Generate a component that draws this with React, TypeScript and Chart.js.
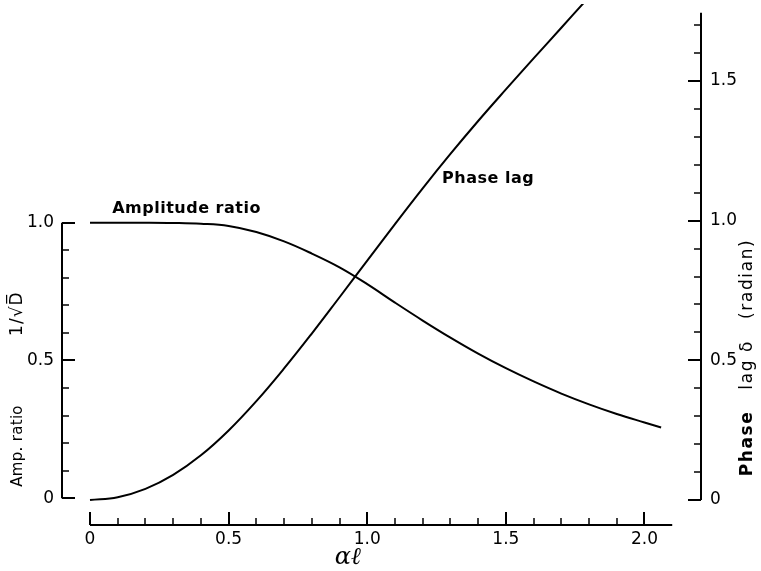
import React, { useEffect, useRef } from "react";
import { Chart, registerables } from "chart.js";

Chart.register(...registerables);

// ---- data ----
const ampX = [0, 0.1, 0.2, 0.3, 0.4, 0.5, 0.6, 0.7, 0.8, 0.9, 1.0, 1.1, 1.2, 1.3, 1.4, 1.5, 1.6, 1.7, 1.8, 1.9, 2.0, 2.06];
const ampY = [1.0, 1.0, 1.0, 0.999, 0.996, 0.988, 0.966, 0.932, 0.888, 0.838, 0.777, 0.71, 0.645, 0.583, 0.525, 0.472, 0.424, 0.38, 0.341, 0.306, 0.275, 0.257];

const phaseX = [0, 0.1, 0.2, 0.3, 0.4, 0.5, 0.6, 0.7, 0.8, 0.9, 1.0, 1.1, 1.2, 1.3, 1.4, 1.5, 1.6, 1.7, 1.78];
const phaseY = [0, 0.01, 0.04, 0.09, 0.16, 0.249, 0.354, 0.471, 0.596, 0.726, 0.857, 0.988, 1.116, 1.239, 1.357, 1.47, 1.581, 1.691, 1.779];

const xTickLabels = ["0", "0.5", "1.0", "1.5", "2.0"];
const xTickValues = [0, 0.5, 1.0, 1.5, 2.0];
const leftTickLabels = ["0", "0.5", "1.0"];
const leftTickValues = [0, 0.5, 1.0];
const rightTickLabels = ["0", "0.5", "1.0", "1.5"];
const rightTickValues = [0, 0.5, 1.0, 1.5];

const xAxisEnd = 2.1;
const leftAxisTop = 1.0;
const rightAxisTop = 1.745;
const rightMinorTop = 1.7;

const TICK_FONT = '17px "DejaVu Sans"';
const NOTE_FONT = 'bold 16px "DejaVu Sans"';

function drawRotatedParts(ctx: any, cx: number, cy: number, parts: [string, string][], spacing = 0) {
  // draw text parts rotated -90deg, centred on (cx, cy)
  ctx.save();
  ctx.translate(cx, cy);
  ctx.rotate(-Math.PI / 2);
  ctx.textAlign = "left";
  ctx.textBaseline = "middle";
  ctx.letterSpacing = spacing + "px";
  let total = 0;
  const widths = parts.map(([t, f]) => {
    ctx.font = f;
    const w = ctx.measureText(t).width;
    total += w;
    return w;
  });
  let x = -total / 2;
  parts.forEach(([t, f], i) => {
    ctx.font = f;
    ctx.fillText(t, x, 0);
    x += widths[i];
  });
  ctx.letterSpacing = "0px";
  ctx.restore();
}

const axesPlugin = {
  id: "customAxes",
  beforeDatasetsDraw(chart: any) {
    const ctx = chart.ctx;
    const xs = chart.scales.x;
    const yl = chart.scales.y;
    const yr = chart.scales.y2;
    ctx.save();
    ctx.strokeStyle = "#000";
    ctx.fillStyle = "#000";
    ctx.lineWidth = 2;
    ctx.lineCap = "butt";

    // x axis (bottom)
    const xAxisY = chart.chartArea.bottom - 1;
    ctx.beginPath();
    ctx.moveTo(xs.getPixelForValue(0), xAxisY);
    ctx.lineTo(xs.getPixelForValue(xAxisEnd), xAxisY);
    ctx.stroke();
    for (let i = 0; i <= 20; i++) {
      const v = i / 10;
      const px = Math.round(xs.getPixelForValue(v));
      const major = i % 5 === 0;
      ctx.beginPath();
      ctx.lineWidth = major ? 2 : 1.5;
      ctx.moveTo(px, xAxisY);
      ctx.lineTo(px, xAxisY - (major ? 13 : 7));
      ctx.stroke();
    }
    ctx.font = TICK_FONT;
    ctx.textAlign = "center";
    ctx.textBaseline = "middle";
    xTickValues.forEach((v, i) => {
      ctx.fillText(xTickLabels[i], xs.getPixelForValue(v), xAxisY + 15);
    });
    ctx.font = 'italic 24px "DejaVu Serif"';
    ctx.fillText("αℓ", xs.getPixelForValue(0.93), xAxisY + 33);

    // left axis
    const lx = chart.chartArea.left;
    ctx.lineWidth = 2;
    ctx.beginPath();
    ctx.moveTo(lx, yl.getPixelForValue(0));
    ctx.lineTo(lx, yl.getPixelForValue(leftAxisTop));
    ctx.stroke();
    for (let i = 0; i <= 10; i++) {
      const v = i / 10;
      const py = Math.round(yl.getPixelForValue(v));
      const major = i % 5 === 0;
      ctx.beginPath();
      ctx.lineWidth = major ? 2 : 1.5;
      ctx.moveTo(lx, py);
      ctx.lineTo(lx + (major ? 13 : 7), py);
      ctx.stroke();
    }
    ctx.font = TICK_FONT;
    ctx.textAlign = "right";
    leftTickValues.forEach((v, i) => {
      ctx.fillText(leftTickLabels[i], lx - 8, yl.getPixelForValue(v));
    });

    // right axis
    const rx = chart.chartArea.right;
    ctx.lineWidth = 2;
    ctx.beginPath();
    ctx.moveTo(rx, yr.getPixelForValue(0));
    ctx.lineTo(rx, yr.getPixelForValue(rightAxisTop));
    ctx.stroke();
    for (let i = 0; i <= Math.round(rightMinorTop * 10); i++) {
      const v = i / 10;
      const py = Math.round(yr.getPixelForValue(v));
      const major = i % 5 === 0;
      ctx.beginPath();
      ctx.lineWidth = major ? 2 : 1.5;
      ctx.moveTo(rx, py);
      ctx.lineTo(rx - (major ? 13 : 7), py);
      ctx.stroke();
    }
    ctx.textAlign = "left";
    rightTickValues.forEach((v, i) => {
      ctx.fillText(rightTickLabels[i], rx + 9, yr.getPixelForValue(v));
    });

    // rotated axis titles
    drawRotatedParts(ctx, 18, yl.getPixelForValue(0.19), [["Amp. ratio", '15px "DejaVu Sans"']], 0.3);
    drawRotatedParts(ctx, 18, yl.getPixelForValue(0.67), [["1/√D\u0305", '17px "DejaVu Sans"']], 1);
    drawRotatedParts(
      ctx,
      748,
      yr.getPixelForValue(0.51),
      [
        ["Phase", 'bold 17px "DejaVu Sans"'],
        ["   lag δ   (radian)", '17px "DejaVu Sans"'],
      ],
      1.6
    );

    // curve notes
    ctx.font = NOTE_FONT;
    ctx.textAlign = "left";
    ctx.textBaseline = "middle";
    (ctx as any).letterSpacing = "0.5px";
    ctx.fillText("Amplitude ratio", xs.getPixelForValue(0.08), yl.getPixelForValue(1.05));
    ctx.fillText("Phase lag", xs.getPixelForValue(1.27), yr.getPixelForValue(1.15));
    (ctx as any).letterSpacing = "0px";
    ctx.restore();
  },
};

export default function App() {
  const ref = useRef<HTMLCanvasElement | null>(null);
  useEffect(() => {
    document.body.style.margin = "0";
    const canvas = ref.current!;
    const chart = new Chart(canvas, {
      type: "scatter",
      data: {
        datasets: [
          {
            label: "Amplitude ratio",
            data: ampX.map((x, i) => ({ x, y: ampY[i] })),
            yAxisID: "y",
            showLine: true,
            borderColor: "#000",
            borderWidth: 2,
            pointRadius: 0,
            tension: 0.4,
          },
          {
            label: "Phase lag",
            data: phaseX.map((x, i) => ({ x, y: phaseY[i] })),
            yAxisID: "y2",
            showLine: true,
            borderColor: "#000",
            borderWidth: 2,
            pointRadius: 0,
            tension: 0.4,
          },
        ],
      },
      options: {
        responsive: false,
        animation: false,
        devicePixelRatio: 1,
        layout: { padding: { left: 62, right: 60, top: 4, bottom: 45 } },
        plugins: { legend: { display: false }, tooltip: { enabled: false }, title: { display: false } },
        scales: {
          x: { type: "linear", display: false, min: -0.101, max: 2.2038 },
          y: { type: "linear", display: false, min: -0.1005, max: 1.7935 },
          y2: { type: "linear", display: false, min: -0.0931, max: 1.7759 },
        },
      },
      plugins: [axesPlugin],
    } as any);
    return () => chart.destroy();
  }, []);
  return (
    <div style={{ width: 761, height: 571, background: "#fff" }}>
      <canvas ref={ref} width={761} height={571} style={{ display: "block" }} />
    </div>
  );
}
